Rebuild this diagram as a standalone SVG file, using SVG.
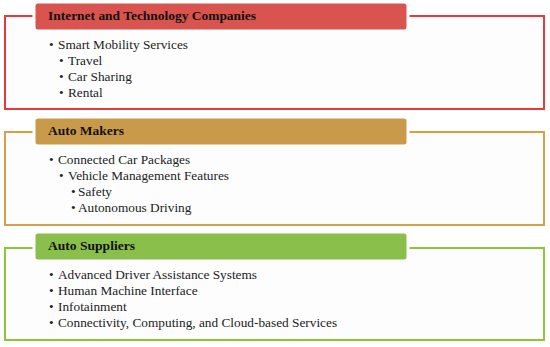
<svg xmlns="http://www.w3.org/2000/svg" width="550" height="347" viewBox="0 0 550 347">
<style>
.frame{fill:#fdfdfd;stroke-width:2}
.hdr{stroke:#ffffff;stroke-width:3}
.ht{font-family:"Liberation Serif","Times New Roman",serif;font-size:13.3px;font-weight:bold;fill:#111}
.bt{font-family:"Liberation Serif","Times New Roman",serif;font-size:13.3px;fill:#222}
</style>
<rect width="550" height="347" fill="#ffffff"/>
<g id="internet">
<rect class="frame" x="5" y="16" width="539" height="93" stroke="#e63a3f"/>
<rect class="hdr" x="34" y="2" width="374" height="29" rx="4" fill="#d9534f"/>
<text class="ht" x="48" y="20" textLength="208" lengthAdjust="spacingAndGlyphs">Internet and Technology Companies</text>
<text class="bt" x="49" y="49">•</text><text class="bt" x="58" y="49">Smart Mobility Services</text>
<text class="bt" x="59" y="65">•</text><text class="bt" x="68" y="65">Travel</text>
<text class="bt" x="59" y="81">•</text><text class="bt" x="68" y="81">Car Sharing</text>
<text class="bt" x="59" y="97">•</text><text class="bt" x="68" y="97">Rental</text>
</g>
<g id="automakers">
<rect class="frame" x="5" y="132" width="539" height="93" stroke="#d6a04a"/>
<rect class="hdr" x="34" y="117" width="374" height="29" rx="4" fill="#c99a4a"/>
<text class="ht" x="48" y="135" textLength="76" lengthAdjust="spacingAndGlyphs">Auto Makers</text>
<text class="bt" x="49" y="164">•</text><text class="bt" x="58" y="164">Connected Car Packages</text>
<text class="bt" x="59" y="180">•</text><text class="bt" x="68" y="180">Vehicle Management Features</text>
<text class="bt" x="71" y="196">•</text><text class="bt" x="78" y="196">Safety</text>
<text class="bt" x="71" y="212">•</text><text class="bt" x="78" y="212">Autonomous Driving</text>
</g>
<g id="autosuppliers">
<rect class="frame" x="5" y="248" width="539" height="92" stroke="#8cc63f"/>
<rect class="hdr" x="34" y="232" width="374" height="29" rx="4" fill="#8bbf4c"/>
<text class="ht" x="48" y="250" textLength="87" lengthAdjust="spacingAndGlyphs">Auto Suppliers</text>
<text class="bt" x="49" y="279">•</text><text class="bt" x="58" y="279">Advanced Driver Assistance Systems</text>
<text class="bt" x="49" y="295">•</text><text class="bt" x="58" y="295">Human Machine Interface</text>
<text class="bt" x="49" y="311">•</text><text class="bt" x="58" y="311">Infotainment</text>
<text class="bt" x="49" y="327">•</text><text class="bt" x="58" y="327">Connectivity, Computing, and Cloud-based Services</text>
</g>
<g id="connectors"></g>
</svg>
